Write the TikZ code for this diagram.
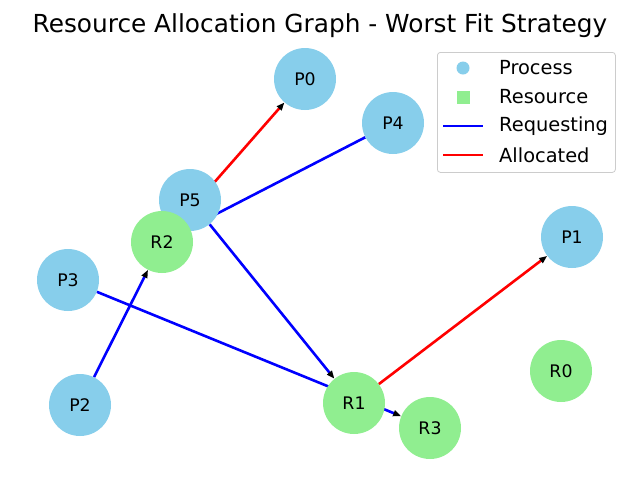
\documentclass[tikz,border=0pt]{standalone}
\usepackage{fontspec}
\setmainfont{DejaVu Sans}
\usetikzlibrary{arrows.meta,backgrounds}
\definecolor{skyblue}{HTML}{87CEEB}
\definecolor{lightgreen}{HTML}{90EE90}
\definecolor{legframe}{HTML}{CCCCCC}
\begin{document}
\begin{tikzpicture}[x=1pt,y=-1pt,
  proc/.style={circle,fill=skyblue,minimum size=62pt,inner sep=0pt,font=\fontsize{17.3}{20}\selectfont},
  res/.style={circle,fill=lightgreen,minimum size=62pt,inner sep=0pt,font=\fontsize{17.3}{20}\selectfont},
  req/.style={draw=blue,line width=2.6pt,-{Triangle[black,length=8pt,width=6pt]}},
  alloc/.style={draw=red,line width=2.6pt,-{Triangle[black,length=8pt,width=6pt]}},
  legtext/.style={anchor=west,inner sep=0pt,font=\fontsize{19.4}{22}\selectfont},
  title/.style={font=\fontsize{24.8}{28}\selectfont}]
\useasboundingbox (0,0) rectangle (640,480);
\node[title] (t) at (320,26) {Resource Allocation Graph - Worst Fit Strategy};
% processes
\node[proc] (P0) at (305,79) {P0};
\node[proc] (P4) at (393,123) {P4};
\node[proc] (P5) at (190,200) {P5};
\node[proc] (P3) at (68,280) {P3};
\node[proc] (P2) at (80,405) {P2};
\node[proc] (P1) at (572,237) {P1};
% resources
\node[res] (R2) at (162,242) {R2};
\node[res] (R1) at (354,403) {R1};
\node[res] (R3) at (430,428) {R3};
\node[res] (R0) at (561,371) {R0};
\begin{pgfonlayer}{background}
\draw[alloc] (R2) -- (P0);
\draw[req] (P4) -- (R2);
\draw[req] (P5) -- (R1);
\draw[req] (P3) -- (R3);
\draw[req] (P2) -- (R2);
\draw[alloc] (R1) -- (P1);
\end{pgfonlayer}
% legend
\node[draw=legframe,fill=white,rounded corners=3pt,minimum width=178pt,minimum height=120pt,anchor=north west,inner sep=0pt,line width=0.8pt] (leg) at (437,52) {};
\node[circle,fill=skyblue,minimum size=13pt,inner sep=0pt] (m1) at (463,68) {};
\node[fill=lightgreen,minimum size=13pt,inner sep=0pt] (m2) at (463,97) {};
\coordinate (a1) at (443,126);
\coordinate (b1) at (483,126);
\coordinate (a2) at (443,155);
\coordinate (b2) at (483,155);
\draw[blue,line width=2.6pt] (a1) -- (b1);
\draw[red,line width=2.6pt] (a2) -- (b2);
\node[legtext] (l1) at (499,68) {Process};
\node[legtext] (l2) at (499,97) {Resource};
\node[legtext] (l3) at (499,126) {Requesting};
\node[legtext] (l4) at (499,155) {Allocated};
\end{tikzpicture}
\end{document}
